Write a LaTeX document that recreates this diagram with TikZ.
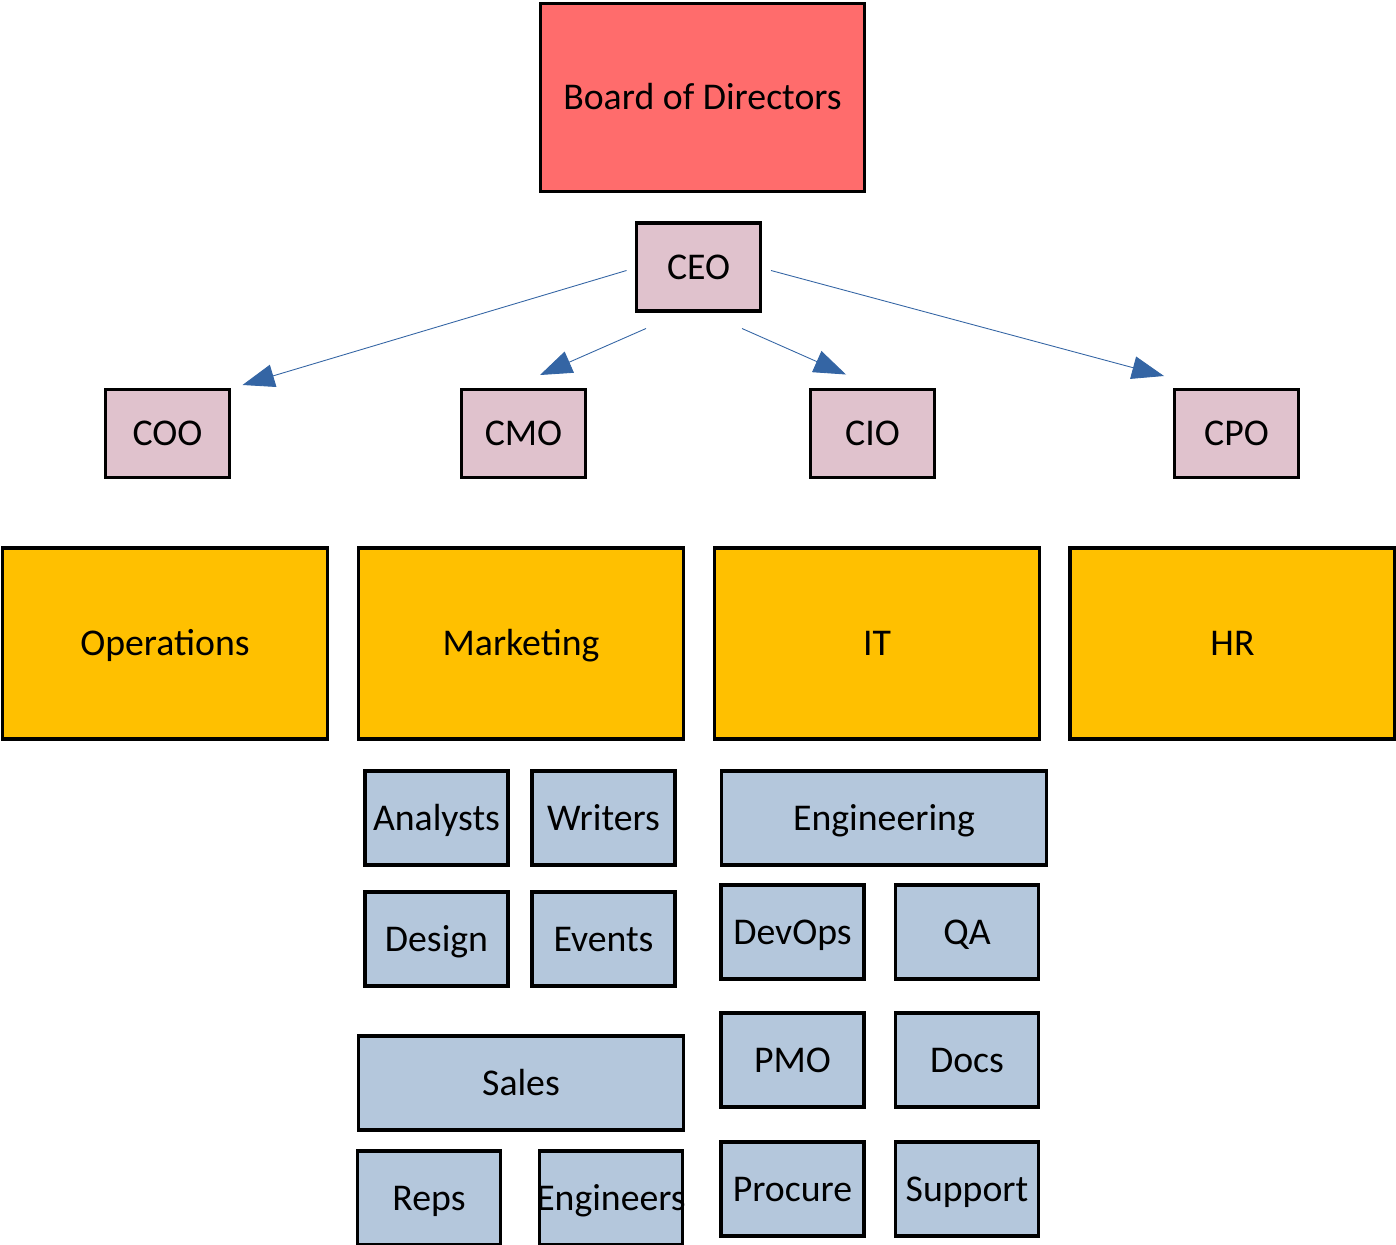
\documentclass[tikz,border=0pt]{standalone}
\usepackage{fontspec}
\setmainfont{Carlito}
\usepackage{tikz}
\usetikzlibrary{arrows.meta}
\definecolor{boardred}{RGB}{255,108,108}
\definecolor{chiefpink}{RGB}{224,194,205}
\definecolor{deptgold}{RGB}{255,192,0}
\definecolor{teamblue}{RGB}{180,199,220}
\definecolor{linkblue}{RGB}{52,101,164}

\begin{document}
\begin{tikzpicture}[x=0.02cm, y=-0.02cm,
  box/.style={draw=black, line width=1.9pt, inner sep=0pt,
    font=\fontsize{21.5}{25}\selectfont, text height=14pt, text depth=0pt},
  board/.style={box, fill=boardred, minimum width=6.48cm, minimum height=3.76cm},
  chief/.style={box, fill=chiefpink, minimum width=2.48cm, minimum height=1.76cm},
  dept/.style={box, fill=deptgold, minimum width=6.5cm, minimum height=3.82cm},
  team/.style={box, fill=teamblue, minimum width=2.86cm, minimum height=1.88cm},
  wideteam/.style={box, fill=teamblue, minimum width=6.5cm, minimum height=1.88cm},
  link/.style={draw=linkblue, line width=0.5pt, -{Triangle[length=0.64cm, width=0.46cm]}}]
\useasboundingbox (0,0) rectangle (1396,1244);

\node[board] (board) at (702.5,97.5) {Board of Directors};
\node[chief] (ceo) at (698.5,267) {CEO};

\node[chief] (coo) at (167.5,433.5) {COO};
\node[chief] (cmo) at (523.5,433.5) {CMO};
\node[chief] (cio) at (872.5,433.5) {CIO};
\node[chief] (cpo) at (1236.5,433.5) {CPO};

\node[dept] (ops) at (165,643.5) {Operations};
\node[dept] (mkt) at (521,643.5) {Marketing};
\node[dept] (it) at (877,643.5) {IT};
\node[dept] (hr) at (1232.5,643.5) {HR};

\node[team] (analysts) at (436.5,818) {Analysts};
\node[team] (writers) at (603.5,818) {Writers};
\node[team] (design) at (436.5,939) {Design};
\node[team] (events) at (603.5,939) {Events};
\node[wideteam] (sales) at (521,1083) {Sales};
\node[team] (reps) at (429,1198) {Reps};
\node[team] (engineers) at (611,1198) {\makebox[0pt]{Engineers}};

\node[wideteam] (engineering) at (884,818) {Engineering};
\node[team] (devops) at (792.5,932) {DevOps};
\node[team] (qa) at (967,932) {QA};
\node[team] (pmo) at (792.5,1060) {PMO};
\node[team] (docs) at (967,1060) {Docs};
\node[team] (procure) at (792.5,1189) {Procure};
\node[team] (support) at (967,1189) {Support};

\coordinate (ceoW) at (626.5,270.5);
\coordinate (ceoSW) at (646,328.5);
\coordinate (ceoSE) at (742,328.5);
\coordinate (ceoE) at (771,270.5);
\coordinate (cooIn) at (242.5,385);
\coordinate (cmoIn) at (540,375);
\coordinate (cioIn) at (846,374.5);
\coordinate (cpoIn) at (1164,376);

\draw[link] (ceoW) -- (cooIn);
\draw[link] (ceoSW) -- (cmoIn);
\draw[link] (ceoSE) -- (cioIn);
\draw[link] (ceoE) -- (cpoIn);
\end{tikzpicture}
\end{document}
